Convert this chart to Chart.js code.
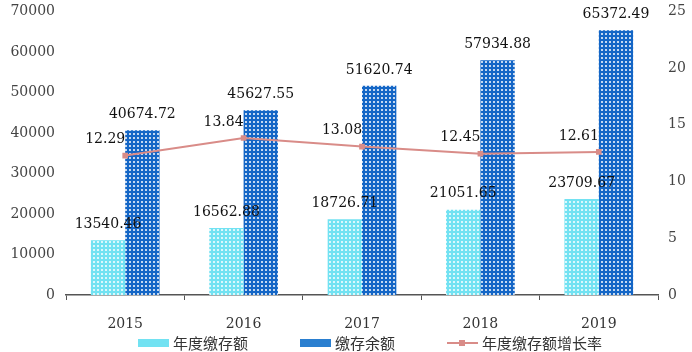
<!DOCTYPE html>
<html>
<head>
<meta charset="utf-8">
<script src="https://cdn.jsdelivr.net/npm/chart.js@4"></script>
<style>
  html, body { margin: 0; padding: 0; background: #fff; }
  #wrap { width: 692px; height: 352px; }
</style>
</head>
<body>
<div id="wrap"><canvas id="barChart" width="692" height="352"></canvas></div>
<script>
const years = ['2015', '2016', '2017', '2018', '2019'];
const annualDeposit = [13540.46, 16562.88, 18726.71, 21051.65, 23709.67];
const depositBalance = [40674.72, 45627.55, 51620.74, 57934.88, 65372.49];
const growthRate = [12.29, 13.84, 13.08, 12.45, 12.61];
const leftTicks = [0, 10000, 20000, 30000, 40000, 50000, 60000, 70000];
const rightTicks = [0, 5, 10, 15, 20, 25];

const numFont = '"DejaVu Serif", serif';
const cjkFont = '"Noto Sans CJK SC", sans-serif';

const lightColor = '#72e2f2';
const darkColor = '#1466c6';
const lineColor = '#d98c88';

function makePattern(color) {
    var c = document.createElement('canvas');
    c.width = 4; c.height = 4;
    var g = c.getContext('2d');
    g.fillStyle = color;
    g.fillRect(0, 0, 4, 4);
    g.fillStyle = 'rgba(255,255,255,0.75)';
    g.fillRect(1, 1, 2, 2);
    return g.createPattern(c, 'repeat');
}

// value labels above bars and line points
const valueLabels = {
    id: 'valueLabels',
    afterDatasetsDraw(chart) {
        const ctx = chart.ctx;
        ctx.save();
        ctx.font = '14px ' + numFont;
        ctx.fillStyle = '#111';
        ctx.textBaseline = 'middle';
        ctx.textAlign = 'center';
        chart.data.datasets.forEach((ds, di) => {
            const meta = chart.getDatasetMeta(di);
            meta.data.forEach((el, i) => {
                const v = ds.data[i].toFixed(2);
                if (ds.type === 'line') {
                    ctx.fillText(v, el.x - 20, el.y - 16);
                } else {
                    ctx.fillText(v, el.x, el.y - 16);
                }
            });
        });
        ctx.restore();
    }
};

// legend drawn by hand so the item spacing matches
const bottomLegend = {
    id: 'bottomLegend',
    afterDraw(chart) {
        const ctx = chart.ctx;
        const ds = chart.data.datasets;
        const y = 343;
        const items = [
            { x: 138, kind: 'box', color: lightColor, text: ds[1].label },
            { x: 300, kind: 'box', color: '#2a7fd0', text: ds[2].label },
            { x: 447, kind: 'line', color: lineColor, text: ds[0].label }
        ];
        ctx.save();
        ctx.font = '15px ' + cjkFont;
        ctx.textBaseline = 'middle';
        ctx.textAlign = 'left';
        items.forEach(it => {
            if (it.kind === 'box') {
                ctx.fillStyle = it.color;
                ctx.fillRect(it.x, y - 4, 31, 8);
            } else {
                ctx.strokeStyle = it.color;
                ctx.lineWidth = 2;
                ctx.beginPath();
                ctx.moveTo(it.x, y);
                ctx.lineTo(it.x + 31, y);
                ctx.stroke();
                ctx.fillStyle = it.color;
                ctx.fillRect(it.x + 12, y - 3, 6, 6);
            }
            ctx.fillStyle = '#333';
            ctx.fillText(it.text, it.x + 35, y);
        });
        ctx.restore();
    }
};

const ctx = document.getElementById('barChart').getContext('2d');
const myChart = new Chart(ctx, {
    data: {
        labels: years,
        datasets: [
            {
                type: 'line',
                label: '年度缴存额增长率',
                data: growthRate,
                yAxisID: 'y2',
                borderColor: lineColor,
                backgroundColor: lineColor,
                borderWidth: 2,
                pointStyle: 'rect',
                pointRadius: 4,
                pointBackgroundColor: lineColor,
                pointBorderWidth: 0,
                tension: 0,
                order: 0
            },
            {
                type: 'bar',
                label: '年度缴存额',
                data: annualDeposit,
                yAxisID: 'y',
                backgroundColor: makePattern(lightColor),
                barPercentage: 1,
                categoryPercentage: 0.58,
                order: 1
            },
            {
                type: 'bar',
                label: '缴存余额',
                data: depositBalance,
                yAxisID: 'y',
                backgroundColor: makePattern(darkColor),
                barPercentage: 1,
                categoryPercentage: 0.58,
                order: 1
            }
        ]
    },
    plugins: [valueLabels, bottomLegend],
    options: {
        responsive: false,
        animation: false,
        layout: { padding: 0 },
        plugins: {
            tooltip: { enabled: false },
            legend: { display: false }
        },
        scales: {
            x: {
                grid: {
                    offset: true,
                    drawOnChartArea: false,
                    tickLength: 5,
                    color: '#555'
                },
                border: { color: '#555', width: 1.5 },
                ticks: {
                    padding: 16,
                    color: '#333',
                    font: { size: 14, family: numFont }
                },
                afterFit(scale) { scale.height = 57; }
            },
            y: {
                position: 'left',
                min: 0,
                max: 70000,
                grid: { display: false },
                border: { display: false },
                afterBuildTicks(scale) { scale.ticks = leftTicks.map(v => ({ value: v })); },
                ticks: {
                    padding: 3,
                    color: '#444',
                    font: { size: 14, family: numFont },
                    callback: v => String(v)
                },
                afterFit(scale) { scale.width = 66; }
            },
            y2: {
                position: 'right',
                min: 0,
                max: 25,
                grid: { display: false },
                border: { display: false },
                afterBuildTicks(scale) { scale.ticks = rightTicks.map(v => ({ value: v })); },
                ticks: {
                    padding: 2,
                    color: '#444',
                    font: { size: 14, family: numFont }
                },
                afterFit(scale) { scale.width = 34; }
            }
        }
    }
});
</script>
</body>
</html>
